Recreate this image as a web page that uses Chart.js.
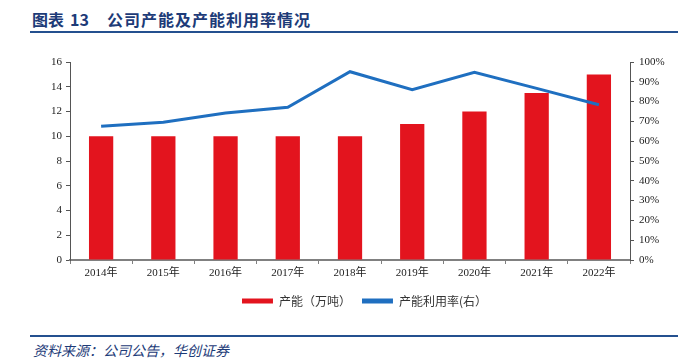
<!DOCTYPE html>
<html>
<head>
<meta charset="utf-8">
<script src="https://cdn.jsdelivr.net/npm/chart.js@4.4.0/dist/chart.umd.min.js"></script>
<style>
  body { margin: 0; width: 697px; height: 360px; background: #fff; position: relative; overflow: hidden; }
  #title { position: absolute; left: 32px; top: 7px; font: bold 16px "Noto Sans CJK SC", serif; color: #1d3b78; white-space: nowrap; }
  #title span { display: inline-block; }
  .rule { position: absolute; left: 30px; width: 648px; height: 2px; background: #24508f; }
  #src { position: absolute; left: 33px; top: 340px; font: italic 14px "Noto Sans CJK SC", sans-serif; color: #1d3b78; }
  #wrap { position: absolute; left: 0; top: 40px; width: 697px; height: 290px; }
</style>
</head>
<body>
<div id="title"><span style="width:38px">图表</span><span style="width:37px">13</span><span style="letter-spacing:1px">公司产能及产能利用率情况</span></div>
<div class="rule" style="top:31px"></div>
<div id="wrap"><canvas id="capChart"></canvas></div>
<div class="rule" style="top:335px"></div>
<div id="src">资料来源：公司公告，华创证券</div>
<script>
var years = ["2014年", "2015年", "2016年", "2017年", "2018年", "2019年", "2020年", "2021年", "2022年"];
var capacity = [10, 10, 10, 10, 10, 11, 12, 13.5, 15];
var utilization = [0.675, 0.696, 0.742, 0.771, 0.951, 0.860, 0.948, 0.867, 0.784];

var tickFont = { family: '"Liberation Serif", "Noto Sans CJK SC"', size: 11 };

// nudge the legend a little right of centre, like the original
var legendShift = {
    id: 'legendShift',
    afterLayout: function(chart) {
        chart.legend.left += 16;
        chart.legend.right += 16;
    }
};

var ctx = document.getElementById("capChart").getContext('2d');
var chartData = {
    type: 'bar',
    data: {
        labels: years,
        datasets: [{
            type: 'line',
            label: "产能利用率(右）",
            data: utilization,
            yAxisID: 'y1',
            borderColor: "#1f6fc0",
            backgroundColor: "#1f6fc0",
            borderWidth: 3,
            pointRadius: 0,
            tension: 0,
            order: 0
        }, {
            label: "产能（万吨）",
            data: capacity,
            yAxisID: 'y',
            backgroundColor: "#e3141e",
            barPercentage: 0.39,
            categoryPercentage: 1,
            order: 1
        }]
    },
    options: {
        responsive: true,
        maintainAspectRatio: false,
        animation: false,
        layout: { padding: { top: 22, left: 0, right: 0, bottom: 13 } },
        plugins: {
            tooltip: { enabled: false },
            legend: {
                position: 'bottom',
                reverse: true,
                labels: {
                    boxWidth: 31,
                    boxHeight: 5,
                    padding: 11,
                    color: '#333',
                    font: { family: '"Noto Sans CJK SC"', size: 12 },
                    generateLabels: function(chart) {
                        return chart.data.datasets.map(function(ds, i) {
                            return {
                                text: ds.label,
                                fillStyle: ds.backgroundColor,
                                strokeStyle: ds.backgroundColor,
                                lineWidth: 0,
                                fontColor: '#333',
                                datasetIndex: i
                            };
                        });
                    }
                }
            }
        },
        scales: {
            x: {
                grid: { display: true, offset: true, drawOnChartArea: false, drawTicks: true, tickLength: 4, color: '#808080' },
                border: { color: '#808080', width: 2 },
                ticks: { color: '#222', font: tickFont, padding: 3, maxRotation: 0 },
                afterFit: function(s) { s.height = 24; }
            },
            y: {
                position: 'left',
                min: 0, max: 16,
                ticks: { stepSize: 2, color: '#222', font: tickFont, padding: 4 },
                grid: { drawOnChartArea: false, tickLength: 4, color: '#555' },
                border: { color: '#555' },
                afterFit: function(s) { s.width = 70; }
            },
            y1: {
                position: 'right',
                min: 0, max: 1,
                ticks: {
                    stepSize: 0.1, color: '#222', font: tickFont, padding: 5,
                    callback: function(v) { return Math.round(v * 100) + '%'; }
                },
                grid: { drawOnChartArea: false, tickLength: 4, color: '#555' },
                border: { color: '#555' },
                afterFit: function(s) { s.width = 67; }
            }
        }
    },
    plugins: [legendShift]
};

var capChart = new Chart(ctx, chartData);
</script>
</body>
</html>
